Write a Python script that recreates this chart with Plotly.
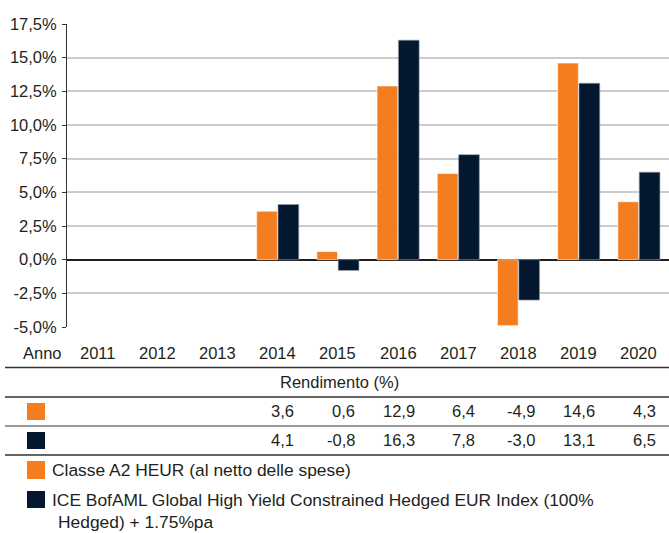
import plotly.graph_objects as go

years = ['2011', '2012', '2013', '2014', '2015', '2016', '2017', '2018', '2019', '2020']
fund = [None, None, None, 3.6, 0.6, 12.9, 6.4, -4.9, 14.6, 4.3]
index = [None, None, None, 4.1, -0.8, 16.3, 7.8, -3.0, 13.1, 6.5]
fund_name = 'Classe A2 HEUR (al netto delle spese)'
index_name_1 = 'ICE BofAML Global High Yield Constrained Hedged EUR Index (100%'
index_name_2 = 'Hedged) + 1.75%pa'
y_ticks = [-5, -2.5, 0, 2.5, 5, 7.5, 10, 12.5, 15, 17.5]
y_tick_text = ['-5,0%', '-2,5%', '0,0%', '2,5%', '5,0%', '7,5%', '10,0%', '12,5%', '15,0%', '17,5%']

ORANGE = '#F47D20'
NAVY = '#03172F'
TXT = '#231F20'
FONT = 'Liberation Sans'

W, H = 669, 533
L, T, PH = 67, 24, 303
PW = W - L


def py(p):
    return (T + PH - p) / PH


def px(p):
    return (p - L) / PW


fig = go.Figure()
fig.add_bar(x=years, y=fund, name=fund_name, marker_color=ORANGE,
            marker_line=dict(color='rgba(255,255,255,0.6)', width=1))
fig.add_bar(x=years, y=index, name=index_name_1, marker_color=NAVY,
            marker_line=dict(color='rgba(150,160,170,0.6)', width=1))

shapes = []
annotations = []

# table rules
for yy, col, wd in [(367.5, '#333333', 1.5), (397, '#333333', 1.5), (426, '#999999', 2), (455, '#333333', 1.5)]:
    shapes.append(dict(type='line', xref='paper', yref='paper', x0=px(5), x1=px(669),
                       y0=py(yy), y1=py(yy), line=dict(color=col, width=wd)))

# row squares
for y0, y1, col in [(403, 420, ORANGE), (432, 449, NAVY), (461, 479, ORANGE), (491, 508, NAVY)]:
    shapes.append(dict(type='rect', xref='paper', yref='paper', x0=px(27), x1=px(45),
                       y0=py(y1), y1=py(y0), fillcolor=col, line=dict(width=0)))

TF = dict(family=FONT, size=16.5, color=TXT)
LF = dict(family=FONT, size=17.4, color=TXT)

# year header
annotations.append(dict(text='Anno', xref='paper', yref='paper', x=px(21), y=py(353),
                        xanchor='left', yanchor='middle', showarrow=False, font=TF))
for i, yr in enumerate(years):
    annotations.append(dict(text=yr, xref='x', yref='paper', x=i, y=py(353),
                            xanchor='center', yanchor='middle', showarrow=False, font=TF))

annotations.append(dict(text='Rendimento (%)', xref='paper', yref='paper', x=px(339), y=py(382),
                        xanchor='center', yanchor='middle', showarrow=False, font=TF))


def fmt(v):
    return ('%.1f' % v).replace('.', ',')


for series, yy in [(fund, 411), (index, 440)]:
    for i, v in enumerate(series):
        if v is None:
            continue
        annotations.append(dict(text=fmt(v), xref='x', yref='paper', x=i + 0.31, y=py(yy),
                                xanchor='right', yanchor='middle', showarrow=False, font=TF))

annotations.append(dict(text=fund_name, xref='paper', yref='paper', x=px(50), y=py(470),
                        xanchor='left', yanchor='middle', showarrow=False, font=LF))
annotations.append(dict(text=index_name_1, xref='paper', yref='paper', x=px(50), y=py(500),
                        xanchor='left', yanchor='middle', showarrow=False, font=LF))
annotations.append(dict(text=index_name_2, xref='paper', yref='paper', x=px(56), y=py(522),
                        xanchor='left', yanchor='middle', showarrow=False, font=LF))

fig.update_layout(
    width=W, height=H,
    margin=dict(l=L, r=0, t=T, b=H - T - PH, pad=0),
    paper_bgcolor='white', plot_bgcolor='white',
    font=dict(family=FONT, size=16.5, color=TXT),
    showlegend=False,
    barmode='group', bargap=0.29, bargroupgap=0.03,
    shapes=shapes, annotations=annotations,
    xaxis=dict(type='category', showticklabels=False, showgrid=False, zeroline=False,
               showline=False, ticks='', range=[-0.5, 9.5], fixedrange=True),
    yaxis=dict(range=[-5, 17.5], tickmode='array', tickvals=y_ticks, ticktext=y_tick_text,
               showgrid=True, gridcolor='#CCCCCC', gridwidth=1.5,
               zeroline=True, zerolinecolor='#231F20', zerolinewidth=2,
               showline=True, linecolor='#333333', linewidth=1,
               ticks='outside', ticklen=4, tickcolor='#333333',
               ticklabelstandoff=2, fixedrange=True),
)

fig.write_html('out.html', config={'displayModeBar': False},
               post_script="document.body.style.margin='0';document.body.style.overflow='hidden';")
